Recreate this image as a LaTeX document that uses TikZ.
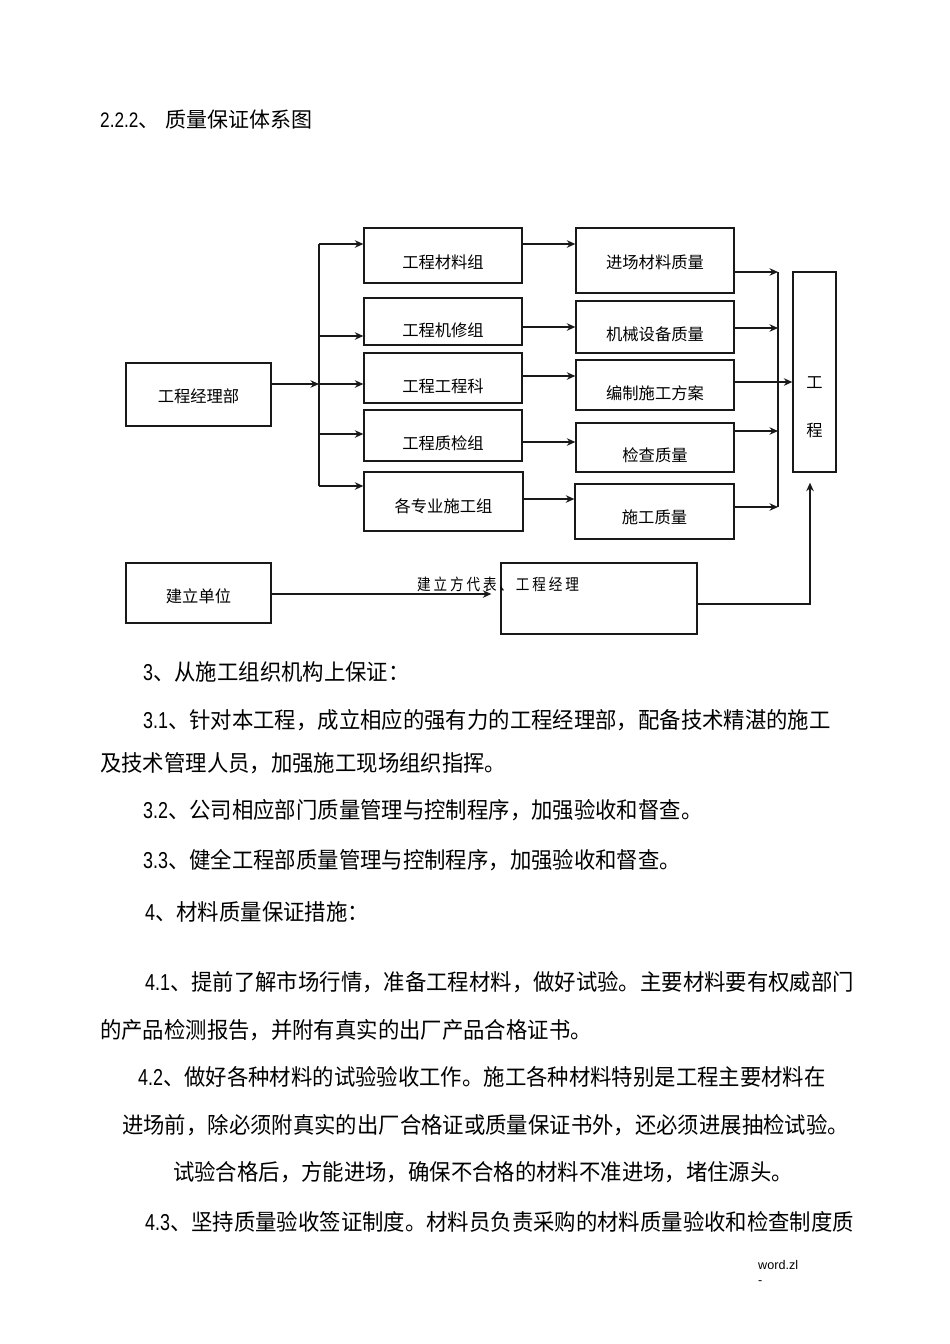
\documentclass[tikz,border=0pt]{standalone}
\usepackage{fontspec}
\setmainfont{Liberation Sans}
\newfontfamily\cjk{Noto Sans CJK SC}
\newfontfamily\cjkls[LetterSpace=21]{Noto Sans CJK SC}
\usetikzlibrary{arrows.meta}
\newcommand{\dg}[1]{\scalebox{0.82}[1]{\fontsize{23pt}{26pt}\rmfamily\selectfont #1}}
\newcommand{\sx}[1]{\scalebox{0.95}[1]{#1}}
\begin{document}
\begin{tikzpicture}[x=1pt,y=-1pt,
  box/.style={draw=black!90, line width=1.3pt, inner sep=0pt, text depth=0pt, font=\fontsize{16.3pt}{20pt}\cjk},
  arr/.style={line width=1.3pt, draw=black!90, -{Stealth[length=8.5pt,width=7.5pt]}},
  ln/.style={line width=1.3pt, draw=black!90},
  body/.style={anchor=base west, inner sep=0pt, font=\fontsize{22.5pt}{26pt}\cjk},
]
\fill[white] (0,0) rectangle (950,1344);
\useasboundingbox (0,0) rectangle (950,1344);

% heading
\node[anchor=base west, inner sep=0pt] (hdr) at (100,127.5)
  {\scalebox{0.82}[1]{\fontsize{21pt}{24pt}\selectfont 2.2.2}\cjk\fontsize{21pt}{24pt}\selectfont 、\hspace{6pt}质量保证体系图};

% boxes
\node[box, minimum width=145pt, minimum height=63pt, text height=15.4pt] (mgr) at (198.5,394.5) {工程经理部};
\node[box, minimum width=158pt, minimum height=55pt, text height=25.4pt] (g1) at (443,255.5) {工程材料组};
\node[box, minimum width=158pt, minimum height=47pt, text height=29.4pt] (g2) at (443,321.5) {工程机修组};
\node[box, minimum width=158pt, minimum height=50pt, text height=28.4pt] (g3) at (443,378) {工程工程科};
\node[box, minimum width=158pt, minimum height=51pt, text height=27.4pt] (g4) at (443,435.5) {工程质检组};
\node[box, minimum width=159pt, minimum height=59pt, text height=21.4pt] (g5) at (443.5,501.5) {各专业施工组};
\node[box, minimum width=158pt, minimum height=65pt, text height=15.4pt] (q1) at (655,260.5) {进场材料质量};
\node[box, minimum width=158pt, minimum height=52pt, text height=26.4pt] (q2) at (655,327) {机械设备质量};
\node[box, minimum width=158pt, minimum height=50pt, text height=28.4pt] (q3) at (655,385) {编制施工方案};
\node[box, minimum width=158pt, minimum height=49pt, text height=27.4pt] (q4) at (655,447.5) {检查质量};
\node[box, minimum width=159pt, minimum height=55pt, text height=23.4pt] (q5) at (654.5,511.5) {施工质量};
\node[box, minimum width=43pt, minimum height=200pt] (proj) at (814.5,372)
  {\raisebox{-40.5pt}[0pt][0pt]{\begin{tabular}{@{}c@{}}工\\[28pt]程\end{tabular}}};
\node[box, minimum width=145pt, minimum height=60pt, text height=18.4pt] (unit) at (198.5,593) {建立单位};
\node[box, minimum width=196pt, minimum height=71pt] (rep) at (599,598.5) {};

% left distribution
\coordinate (jt) at (319,244);
\coordinate (j2) at (319,336);
\coordinate (jm) at (319,384);
\coordinate (j4) at (319,434);
\coordinate (jb) at (319,486);
\draw[ln] (jt) -- (jb);
\draw[arr] (mgr.east |- jm) -- (jm);
\draw[arr] (jt) -- (g1.west |- jt);
\draw[arr] (j2) -- (g2.west |- j2);
\draw[arr] (jm) -- (g3.west |- jm);
\draw[arr] (j4) -- (g4.west |- j4);
\draw[arr] (jb) -- (g5.west |- jb);

% groups to quality items
\coordinate (a1) at (0,244);
\coordinate (a2) at (0,327);
\coordinate (a3) at (0,376);
\coordinate (a4) at (0,442);
\coordinate (a5) at (0,499);
\draw[arr] (g1.east |- a1) -- (q1.west |- a1);
\draw[arr] (g2.east |- a2) -- (q2.west |- a2);
\draw[arr] (g3.east |- a3) -- (q3.west |- a3);
\draw[arr] (g4.east |- a4) -- (q4.west |- a4);
\draw[arr] (g5.east |- a5) -- (q5.west |- a5);

% quality items to project
\coordinate (c1) at (778,272);
\coordinate (c2) at (778,328);
\coordinate (c3) at (0,382);
\coordinate (c4) at (778,431);
\coordinate (c5) at (778,507);
\draw[ln] (c1) -- (c5);
\draw[arr] (q1.east |- c1) -- (c1);
\draw[arr] (q2.east |- c2) -- (c2);
\draw[arr] (q3.east |- c3) -- (proj.west |- c3);
\draw[arr] (q4.east |- c4) -- (c4);
\draw[arr] (q5.east |- c5) -- (c5);

% bottom
\coordinate (b1) at (0,594);
\coordinate (b2) at (810,604);
\draw[arr, shorten >=9pt] (unit.east |- b1) -- (rep.west |- b1);
\draw[arr, shorten >=10pt] (rep.east |- b2) -- (b2) -- (b2 |- proj.south);
\node[anchor=west, inner sep=0pt, font=\fontsize{16pt}{18pt}\cjkls] (replbl) at (417,584) {\scalebox{0.85}[1]{建立方代表、工程经理}};

% body text
\node[body] (t1) at (143,680.6) {\sx{\dg{3}、从施工组织机构上保证：}};
\node[body] (t2) at (143,728.6) {\sx{\dg{3.1}、针对本工程，成立相应的强有力的工程经理部，配备技术精湛的施工}};
\node[body] (t3) at (100,771.6) {\sx{及技术管理人员，加强施工现场组织指挥。}};
\node[body] (t4) at (143,818.6) {\sx{\dg{3.2}、公司相应部门质量管理与控制程序，加强验收和督查。}};
\node[body] (t5) at (143,868.6) {\sx{\dg{3.3}、健全工程部质量管理与控制程序，加强验收和督查。}};
\node[body] (t6) at (145,920.6) {\sx{\dg{4}、材料质量保证措施：}};
\node[body] (t7) at (145,990.6) {\sx{\dg{4.1}、提前了解市场行情，准备工程材料，做好试验。主要材料要有权威部门}};
\node[body] (t8) at (100,1038.6) {\sx{的产品检测报告，并附有真实的出厂产品合格证书。}};
\node[body] (t9) at (138,1085.6) {\sx{\dg{4.2}、做好各种材料的试验验收工作。施工各种材料特别是工程主要材料在}};
\node[body] (t10) at (122,1133.6) {\sx{进场前，除必须附真实的出厂合格证或质量保证书外，还必须进展抽检试验。}};
\node[body] (t11) at (173,1180.6) {\sx{试验合格后，方能进场，确保不合格的材料不准进场，堵住源头。}};
\node[body] (t12) at (145,1230.6) {\sx{\dg{4.3}、坚持质量验收签证制度。材料员负责采购的材料质量验收和检查制度质}};

% footer
\node[anchor=base west, inner sep=0pt, font=\fontsize{12.6pt}{14pt}\selectfont] (ft1) at (758,1269.6) {word.zl};
\node[anchor=base west, inner sep=0pt, font=\fontsize{12.6pt}{14pt}\selectfont] (ft2) at (758,1284) {-};
\end{tikzpicture}
\end{document}
